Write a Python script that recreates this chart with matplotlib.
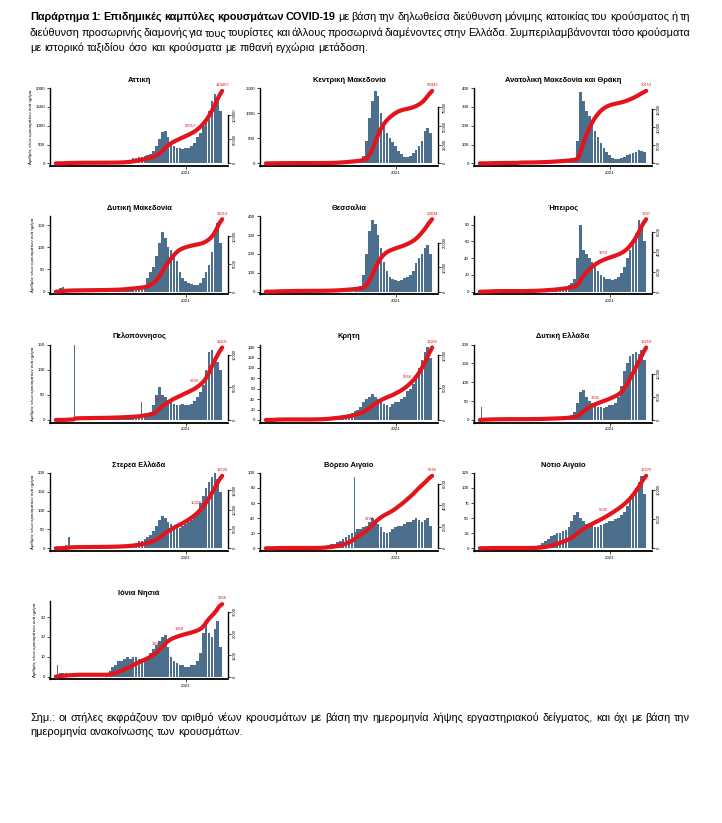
import matplotlib
matplotlib.use("Agg")
import matplotlib.pyplot as plt
import numpy as np
import pandas as pd
from matplotlib.ticker import MaxNLocator

plt.rcParams["font.family"] = ["Liberation Sans Narrow", "Liberation Sans", "DejaVu Sans"]

W, H = 722, 823
BAR = "#4b6f8d"
RED = "#e3141b"

# weekly bins, value = typical daily number of new cases in that week
weeks = pd.date_range("2020-02-24", periods=57, freq="7D")

attiki = [2, 10, 30, 40, 30, 25, 15, 10, 8,
          5, 5, 4, 3, 3, 3, 4, 5, 6, 8, 10, 15,
          20, 30, 50, 80,
          100, 130, 150, 170,
          180, 200, 220, 260, 320,
          450, 650, 830,
          850, 700, 550,
          450, 420, 400, 380, 400,
          420, 450, 550, 700,
          800, 1000, 1150, 1400,
          1650, 1850, 1750, 1400]
kentriki_makedonia = [1, 3, 8, 10, 8, 6, 5, 3, 2,
                      1, 1, 1, 1, 1, 1, 2, 2, 3, 4, 5, 6,
                      8, 12, 20, 30,
                      35, 40, 45, 50,
                      55, 60, 70, 90, 150,
                      450, 900, 1250,
                      1450, 1350, 1000,
                      800, 600, 500, 420, 350,
                      250, 180, 130, 120,
                      150, 200, 260, 350,
                      450, 650, 700, 600]
an_makedonia_thraki = [0, 1, 2, 3, 3, 2, 2, 1, 1,
                       1, 1, 1, 1, 12, 2, 1, 1, 2, 2, 3, 3,
                       4, 5, 6, 6,
                       7, 8, 8, 9,
                       10, 12, 14, 20, 120,
                       380, 330, 280,
                       250, 210, 170,
                       140, 110, 80, 60, 45,
                       30, 25, 25, 30,
                       35, 45, 50, 55,
                       60, 70, 65, 60]
dytiki_makedonia = [3, 8, 10, 5, 3, 2, 1, 1, 1,
                    1, 1, 1, 1, 1, 1, 1, 1, 1, 2, 2, 3,
                    3, 5, 8, 6,
                    6, 7, 8, 8,
                    10, 15, 30, 45, 55,
                    80, 110, 135,
                    120, 100, 95,
                    85, 70, 45, 30, 25,
                    20, 18, 15, 15,
                    20, 30, 45, 60,
                    90, 130, 155, 110]
thessalia = [0, 2, 5, 8, 6, 4, 3, 2, 3,
             8, 2, 1, 1, 1, 1, 1, 1, 1, 2, 2, 3,
             4, 5, 6, 8,
             10, 12, 12, 14,
             16, 18, 20, 30, 90,
             200, 320, 380,
             360, 300, 230,
             160, 110, 80, 65, 60,
             55, 60, 70, 80,
             90, 110, 150, 180,
             200, 230, 250, 200]
ipeiros = [0, 1, 2, 2, 1, 1, 1, 0, 0,
           0, 0, 0, 0, 0, 0, 1, 1, 1, 1, 2, 2,
           2, 3, 3, 3,
           4, 4, 5, 5,
           6, 8, 10, 15, 40,
           80, 50, 45,
           40, 35, 30,
           25, 20, 18, 15, 15,
           14, 15, 18, 22,
           30, 40, 50, 60,
           70, 85, 80, 60]
peloponnisos = [0, 1, 2, 2, 3, 3, 3, 2, 1,
                1, 1, 1, 1, 1, 1, 1, 1, 1, 2, 2, 2,
                2, 3, 3, 3,
                4, 4, 5, 6,
                8, 8, 10, 15, 30,
                50, 65, 50,
                45, 40, 38,
                32, 30, 30, 32, 30,
                30, 32, 38, 45,
                55, 70, 100, 135,
                140, 125, 115, 100]
kriti = [0, 1, 3, 3, 2, 1, 1, 0, 0,
         0, 0, 0, 0, 0, 0, 1, 1, 1, 2, 3, 4,
         5, 6, 7, 8,
         8, 9, 10, 12,
         14, 18, 20, 25, 35,
         40, 45, 50,
         45, 40, 35,
         30, 28, 25, 30, 35,
         35, 40, 45, 55,
         60, 70, 85, 100,
         115, 130, 140, 120]
dytiki_ellada = [1, 3, 4, 3, 2, 2, 1, 1, 1,
                 1, 0, 0, 0, 0, 0, 1, 1, 1, 1, 2, 2,
                 2, 3, 3, 3,
                 3, 4, 4, 5,
                 6, 8, 12, 20, 45,
                 75, 80, 60,
                 50, 45, 40,
                 35, 35, 32, 35, 40,
                 40, 45, 60, 90,
                 130, 150, 170, 175,
                 180, 175, 185, 160]
sterea_ellada = [0, 2, 5, 8, 12, 6, 3, 2, 1,
                 1, 1, 1, 1, 1, 1, 1, 1, 2, 2, 3, 3,
                 4, 5, 6, 8,
                 10, 12, 15, 18,
                 20, 25, 30, 35, 45,
                 60, 75, 85,
                 80, 70, 65,
                 60, 55, 55, 60, 65,
                 70, 75, 85, 100,
                 120, 140, 160, 175,
                 190, 200, 185, 150]
voreio_aigaio = [0, 0, 1, 1, 1, 1, 0, 0, 0,
                 0, 0, 0, 0, 0, 0, 0, 0, 1, 1, 2, 3,
                 4, 5, 6, 8,
                 10, 12, 15, 18,
                 20, 22, 25, 25, 28,
                 30, 35, 40,
                 38, 32, 28,
                 22, 20, 22, 25, 28,
                 30, 30, 32, 35,
                 35, 38, 40, 38,
                 35, 38, 40, 30]
notio_aigaio = [0, 1, 2, 2, 1, 1, 0, 0, 0,
                0, 0, 0, 0, 0, 0, 0, 0, 1, 2, 3, 5,
                8, 12, 15, 20,
                22, 25, 25, 28,
                30, 35, 45, 55, 60,
                50, 45, 40,
                42, 40, 35,
                35, 38, 40, 42, 45,
                45, 48, 50, 55,
                60, 70, 80, 90,
                100, 110, 120, 90]
ionia_nisia = [1, 2, 2, 2, 1, 1, 1, 1, 0,
               0, 0, 0, 0, 0, 0, 0, 0, 1, 3, 5, 6,
               8, 8, 9, 10,
               9, 10, 10, 9,
               8, 9, 10, 12, 14,
               16, 18, 20,
               21, 15, 10,
               8, 7, 6, 6, 5,
               5, 6, 6, 8,
               12, 22, 28, 22,
               20, 24, 28, 15]

# single-day outliers: (week index, cases that day)
spikes = {
    "Πελοπόννησος": [(6, 150), (29, 35)],
    "Δυτική Ελλάδα": [(0, 35)],
    "Στερεά Ελλάδα": [(4, 30)],
    "Βόρειο Αιγαίο": [(30, 95)],
    "Ιόνια Νησιά": [(0, 6)],
}

# title, daily values, left axis top, left tick step, weeks with a red cumulative label
panels = [
    ("Αττική", attiki, 2000, 500, [48]),
    ("Κεντρική Μακεδονία", kentriki_makedonia, 1500, 500, []),
    ("Ανατολική Μακεδονία και Θράκη", an_makedonia_thraki, 400, 100, []),
    ("Δυτική Μακεδονία", dytiki_makedonia, 170, 50, []),
    ("Θεσσαλία", thessalia, 400, 100, []),
    ("Ήπειρος", ipeiros, 90, 20, [44]),
    ("Πελοπόννησος", peloponnisos, 150, 50, [37, 49]),
    ("Κρήτη", kriti, 145, 20, [50]),
    ("Δυτική Ελλάδα", dytiki_ellada, 200, 50, [41]),
    ("Στερεά Ελλάδα", sterea_ellada, 200, 50, [50]),
    ("Βόρειο Αιγαίο", voreio_aigaio, 100, 20, [37]),
    ("Νότιο Αιγαίο", notio_aigaio, 125, 25, [44]),
    ("Ιόνια Νησιά", ionia_nisia, 38, 10, [36, 44]),
]

header = [
    [("Παράρτημα 1:  Επιδημικές καμπύλες κρουσμάτων COVID-19", "bold"),
     ("με βάση την δηλωθείσα διεύθυνση μόνιμης κατοικίας του κρούσματος ή τη", "normal")],
    [("διεύθυνση προσωρινής διαμονής για τους τουρίστες και άλλους προσωρινά διαμένοντες στην Ελλάδα. "
      "Συμπεριλαμβάνονται τόσο κρούσματα", "normal")],
    [("με ιστορικό ταξιδίου όσο και κρούσματα με πιθανή εγχώρια μετάδοση.", "normal")],
]
footnote = [
    [("Σημ.:  οι στήλες εκφράζουν τον αριθμό νέων κρουσμάτων με βάση την ημερομηνία λήψης "
      "εργαστηριακού δείγματος, και όχι με βάση την", "normal")],
    [("ημερομηνία ανακοίνωσης των κρουσμάτων.", "normal")],
]


def put_line(fig, renderer, pieces, y, x0, x1=None, size=8.0):
    words = [(w, wt) for text, wt in pieces for w in text.split()]
    arts = [fig.text(0, 1 - y / H, w, fontsize=size, fontweight=wt, va="center", ha="left")
            for w, wt in words]
    widths = [a.get_window_extent(renderer).width for a in arts]
    gap = size * 0.28 * 100 / 72
    if x1 is not None and len(words) > 1:
        gap = (x1 - x0 - sum(widths)) / (len(words) - 1)
    x = x0
    for a, w in zip(arts, widths):
        a.set_x(x / W)
        x += w + gap
    return x - gap - x0


def draw_panel(ax, title, values, ytop, ystep, marks, with_ylabel):
    vals = np.array(values, dtype=float)
    ax.bar(weeks + pd.Timedelta(days=3.5), vals, width=6.3, color=BAR, linewidth=0, zorder=2)
    extra = spikes.get(title, [])
    for wk, v in extra:
        ax.bar(weeks[wk] + pd.Timedelta(days=3.5), v, width=2.6, color=BAR, linewidth=0, zorder=2)

    daily_total = vals * 7
    for wk, v in extra:
        daily_total[wk] += v
    cum = np.concatenate([[0.0], np.cumsum(daily_total)])
    cum_x = list(weeks) + [weeks[-1] + pd.Timedelta(days=7)]
    total = cum[-1]

    ax.set_ylim(-0.035 * ytop, ytop)
    ax.set_yticks(np.arange(0, ytop + 1, ystep))
    ax.set_xlim(weeks[0] - pd.Timedelta(days=14), weeks[-1] + pd.Timedelta(days=21))
    ax.set_xticks([pd.Timestamp("2021-01-01")])
    ax.set_xticklabels(["2021"])
    ax.set_title(title, fontsize=5.4, fontweight="bold", pad=4.5)
    for s in ("top", "right"):
        ax.spines[s].set_visible(False)
    ax.spines["left"].set_linewidth(1.0)
    ax.spines["bottom"].set_linewidth(1.3)
    ax.tick_params(labelsize=3.2, length=2, width=0.5, pad=1.5)
    if with_ylabel:
        ax.set_ylabel("Αριθμός νέων κρουσμάτων ανά ημέρα", fontsize=3.2, labelpad=2)

    ax2 = ax.twinx()
    ax2.plot(cum_x, cum, color=RED, lw=3.0, solid_capstyle="round", zorder=3)
    ax2.set_ylim(-0.035 * total * 1.04, total * 1.04)
    ticks = [t for t in MaxNLocator(nbins=4, steps=[1, 2, 2.5, 5, 10]).tick_values(0, total * 0.92)
             if 0 <= t <= total * 0.92]
    ax2.set_yticks(ticks)
    ax2.set_yticklabels([f"{int(t)}" for t in ticks], rotation=90, va="center")
    ax2.spines["right"].set_bounds(0, ticks[-1])
    ax2.spines["right"].set_linewidth(1.0)
    for s in ("top", "left", "bottom"):
        ax2.spines[s].set_visible(False)
    ax2.tick_params(labelsize=3.0, length=2, width=0.5, pad=1.5)

    ax2.text(cum_x[-1], total * 1.05, f"{int(round(total))}", color=RED, fontsize=3.0,
             ha="center", va="bottom", clip_on=False)
    for wk in marks:
        ax2.text(cum_x[wk], cum[wk] + total * 0.04, f"{int(round(cum[wk]))}", color=RED,
                 fontsize=3.0, ha="right", va="bottom")


fig = plt.figure(figsize=(W / 100, H / 100), dpi=100)
renderer = fig.canvas.get_renderer()

col_left = [50, 260, 474]
col_width = 178
row_top = 88
row_step = 128.3
ax_height = 78

for i, (title, values, ytop, ystep, marks) in enumerate(panels):
    r, c = divmod(i, 3)
    top = row_top + r * row_step
    ax = fig.add_axes([col_left[c] / W, 1 - (top + ax_height) / H, col_width / W, ax_height / H])
    draw_panel(ax, title, values, ytop, ystep, marks, c == 0)

# size the running text so that the short last header line ends where it does in the report
probe = fig.text(0, 0, header[2][0][0], fontsize=10)
probe_w = probe.get_window_extent(renderer).width
probe.remove()
size = 10 * 335 / probe_w

put_line(fig, renderer, header[0], 17, 30, 690, size)
put_line(fig, renderer, header[1], 33, 30, 690, size)
put_line(fig, renderer, header[2], 48, 30, None, size)
put_line(fig, renderer, footnote[0], 718, 30, 690, size)
put_line(fig, renderer, footnote[1], 732, 30, None, size)

fig.savefig("out.png", dpi=100, facecolor="white")
